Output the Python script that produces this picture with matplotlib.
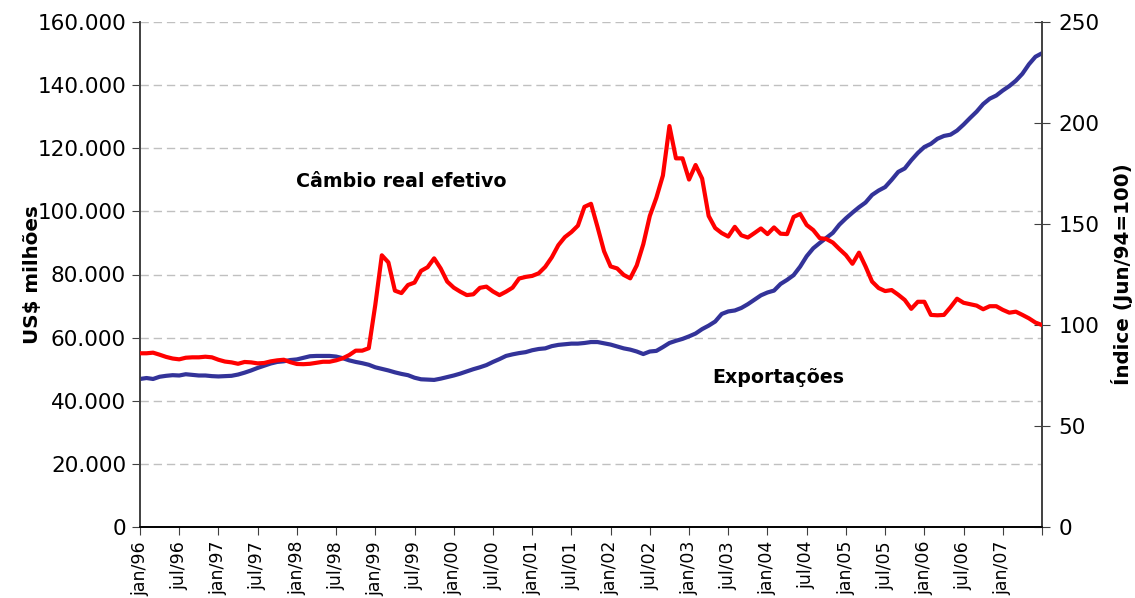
import matplotlib
matplotlib.use("Agg")
import matplotlib.pyplot as plt
from matplotlib.ticker import FuncFormatter

# Monthly data jan/96 .. jul/07
exportacoes = [
    46900, 47200, 46900, 47600, 47900, 48100, 48000, 48400, 48200, 48000, 48000, 47800,
    47700, 47800, 47900, 48300, 48900, 49600, 50400, 51100, 51800, 52300, 52500, 52900,
    53100, 53600, 54100, 54200, 54200, 54200, 54000, 53500, 52800, 52300, 51900, 51400,
    50600, 50100, 49600, 49000, 48500, 48100, 47300, 46800, 46700, 46600, 47000, 47500,
    48000, 48600, 49300, 50000, 50600, 51300, 52300, 53200, 54200, 54700, 55100, 55400,
    56000, 56400, 56600, 57300, 57700, 57900, 58100, 58100, 58300, 58600, 58600, 58200,
    57800, 57200, 56600, 56200, 55600, 54800, 55600, 55800, 57000, 58300, 59000, 59600,
    60400, 61300, 62700, 63800, 65100, 67500, 68300, 68600, 69400, 70600, 72000, 73400,
    74300, 74900, 77000, 78300, 79800, 82500, 85800, 88300, 90000, 91600, 93200, 95800,
    97800, 99600, 101300, 102800, 105200, 106600, 107700, 110000, 112500, 113600, 116200, 118500,
    120400, 121400, 123000, 123900, 124300, 125600, 127500, 129600, 131600, 134000, 135700, 136700,
    138300, 139700, 141400, 143600, 146600, 149000, 150100,
]

cambio = [
    86.0, 86.0, 86.3, 85.3, 84.2, 83.4, 83.0, 83.8, 84.0, 84.0, 84.3, 84.0,
    82.8, 81.9, 81.5, 80.8, 81.7, 81.5, 81.0, 81.2, 82.0, 82.5, 82.8, 81.6,
    80.7, 80.6, 80.8, 81.3, 81.8, 81.8, 82.5, 83.5, 85.1, 87.3, 87.3, 88.5,
    110.0, 134.5, 131.0, 117.0, 115.8, 119.8, 121.0, 126.8, 128.6, 133.0, 128.0, 121.5,
    118.5, 116.5, 114.8, 115.2, 118.4, 119.0, 116.6, 114.8, 116.5, 118.5, 123.0, 123.8,
    124.3, 125.6, 128.8, 133.5, 139.5, 143.5, 146.0, 149.2, 158.5, 160.0, 148.5, 136.5,
    129.0, 128.0, 124.8, 123.1, 129.5, 140.0, 154.0, 163.0, 174.0, 198.5, 182.5, 182.5,
    172.0, 179.2, 172.5, 154.0, 148.0, 145.5, 143.8, 148.6, 144.4, 143.3, 145.5, 147.8,
    145.0, 148.3, 145.2, 145.0, 153.5, 155.0, 149.5, 147.0, 143.0, 142.6, 140.8, 137.6,
    134.6, 130.3, 135.8, 129.0, 121.5, 118.3, 116.8, 117.3, 115.0, 112.4, 108.0, 111.5,
    111.5, 105.0, 104.8, 105.0, 108.8, 113.0, 111.0, 110.3, 109.6, 107.8, 109.3, 109.3,
    107.5, 106.1, 106.6, 105.0, 103.3, 101.2, 100.0,
]

tick_labels = ["jan/96", "jul/96", "jan/97", "jul/97", "jan/98", "jul/98", "jan/99",
               "jul/99", "jan/00", "jul/00", "jan/01", "jul/01", "jan/02", "jul/02",
               "jan/03", "jul/03", "jan/04", "jul/04", "jan/05", "jul/05", "jan/06",
               "jul/06", "jan/07", ""]

plt.rcParams['font.family'] = ['DejaVu Sans']

fig = plt.figure(figsize=(11.35, 5.98), dpi=100)
ax = fig.add_axes([140/1135, 1-527/598, (1042-140)/1135, (527-22)/598])
ax2 = ax.twinx()

x = list(range(len(exportacoes)))
ax.plot(x, exportacoes, color="#333399", lw=3.0, solid_joinstyle="round", solid_capstyle="round", zorder=3)
ax2.plot(x, cambio, color="#FF0000", lw=3.0, solid_joinstyle="round", solid_capstyle="round", zorder=3)

ax.set_xlim(0, len(exportacoes) - 1)
ax.set_ylim(0, 160000)
ax2.set_ylim(0, 250)

ax.set_yticks(range(0, 160001, 20000))
ax.yaxis.set_major_formatter(FuncFormatter(lambda v, p: "0" if v == 0 else f"{int(v):,}".replace(",", ".")))
ax2.set_yticks(range(0, 251, 50))

ax.set_xticks(range(0, len(exportacoes), 6))
ax.set_xticklabels(tick_labels, rotation=90, fontsize=12.5)

ax.grid(axis="y", color="#c0c0c0", lw=1.0, linestyle=(0, (6, 3.5)))
ax.set_axisbelow(True)

ax.tick_params(axis="y", labelsize=15.5, direction="out", length=6, color="#404040", pad=4)
ax.tick_params(axis="x", direction="out", length=6, pad=4, color="#404040")
ax2.tick_params(axis="y", labelsize=15.5, direction="inout", length=12, color="#404040", pad=6)

for a in (ax, ax2):
    a.spines["top"].set_visible(False)
    a.spines["left"].set_color("#404040")
    a.spines["right"].set_color("#404040")
    a.spines["bottom"].set_color("#000000")
    for s in a.spines.values():
        s.set_linewidth(1.2)

ax.set_ylabel("US$ milhões", fontsize=14.3, fontweight="bold")
ax.yaxis.set_label_coords(-0.109, 0.5)
ax2.set_ylabel("Índice (Jun/94=100)", fontsize=14.3, fontweight="bold", labelpad=8)

ax.text(39.9, 109600, "Câmbio real efetivo", fontsize=13.7, fontweight="bold",
        ha="center", va="center")
ax.text(97.6, 47500, "Exportações", fontsize=13.7, fontweight="bold",
        ha="center", va="center")

fig.savefig("out.png", dpi=100)
